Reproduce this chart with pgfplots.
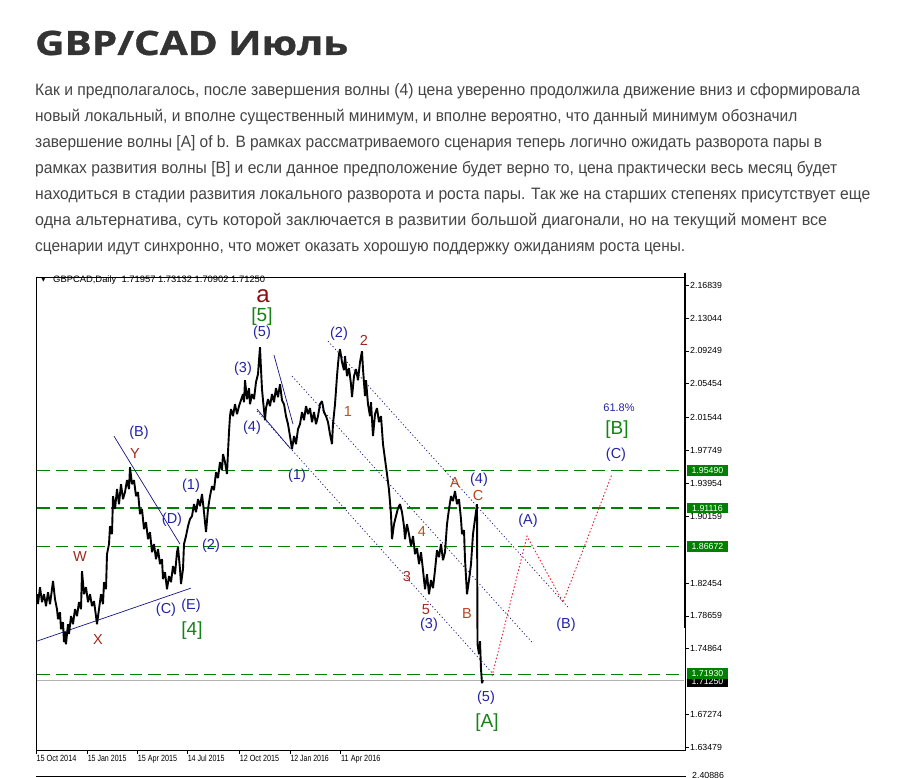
\documentclass[border=0pt]{standalone}
\usepackage{pgfplots}
\pgfplotsset{compat=1.18}
\usepackage{pgfplotstable}
\usepackage{graphicx}
\usepackage{fontspec}
\setmainfont{Liberation Sans}
\newfontfamily\titlefont{Open Sans}[BoldFeatures={FakeBold=0.9}]
\newfontfamily\parafont{Liberation Sans}
\newfontfamily\symfont{DejaVu Sans}
\definecolor{ttl}{RGB}{51,51,51}
\definecolor{para}{RGB}{68,68,68}
\definecolor{mtgreen}{RGB}{0,128,0}
\definecolor{lgreen}{RGB}{20,130,20}
\definecolor{navylab}{RGB}{35,35,165}
\definecolor{navyline}{RGB}{20,20,130}
\definecolor{brn}{RGB}{160,40,30}
\definecolor{sienna}{RGB}{175,85,35}
\definecolor{abc}{RGB}{190,65,30}
\definecolor{maroonA}{RGB}{140,15,15}
\definecolor{redproj}{RGB}{235,30,50}

\pgfplotstableread{
x y
37 1.8117
38 1.8002
40 1.8198
42 1.8025
44 1.8117
46 1.7979
48 1.8140
50 1.8002
52 1.8175
53 1.8268
55 1.8060
57 1.7944
58 1.7829
60 1.7909
61 1.7713
63 1.7794
64 1.7563
65 1.7678
66 1.7540
68 1.7771
69 1.7656
71 1.7864
73 1.7771
75 1.7944
77 1.7864
79 1.8025
81 1.7944
82 1.8383
84 1.8117
86 1.8198
88 1.8025
90 1.8117
92 1.7979
94 1.8037
96 1.7864
97 1.7771
99 1.7944
101 1.8117
103 1.8002
104 1.8256
106 1.8175
107 1.8579
109 1.8695
110 1.8902
112 1.8810
113 1.9249
115 1.9099
117 1.9330
119 1.9156
121 1.9387
123 1.9214
125 1.9295
127 1.9433
129 1.9330
130 1.9583
132 1.9387
134 1.9433
136 1.9249
138 1.9295
140 1.9041
142 1.9099
144 1.8868
146 1.8948
148 1.8752
150 1.8833
152 1.8602
154 1.8695
156 1.8521
158 1.8637
160 1.8464
162 1.8521
163 1.8291
165 1.8371
167 1.8175
169 1.8325
171 1.8256
173 1.8441
175 1.8348
177 1.8602
178 1.8660
180 1.8406
181 1.8233
183 1.8406
184 1.8695
186 1.8787
188 1.8902
190 1.8983
192 1.9018
194 1.9156
196 1.9064
198 1.9214
200 1.9133
202 1.9272
204 1.9064
206 1.8833
208 1.9099
210 1.9249
212 1.9364
214 1.9318
216 1.9525
218 1.9457
220 1.9641
222 1.9548
223 1.9733
225 1.9641
227 1.9503
228 1.9756
229 1.9987
230 2.0172
231 2.0253
233 2.0172
235 2.0310
237 2.0195
239 2.0287
241 2.0356
243 2.0426
244 2.0333
245 2.0587
247 2.0368
249 2.0495
250 2.0310
252 2.0426
254 2.0368
256 2.0564
258 2.0657
259 2.0818
260 2.0968
261 2.0715
262 2.0484
263 2.0356
265 2.0125
266 2.0264
268 2.0368
270 2.0287
272 2.0426
274 2.0333
276 2.0495
278 2.0391
280 2.0541
282 2.0356
284 2.0310
286 2.0172
288 2.0080
290 1.9941
292 1.9791
294 1.9941
296 1.9849
298 2.0022
300 2.0080
302 2.0218
304 2.0125
306 2.0287
308 2.0195
310 2.0264
312 2.0102
314 2.0218
316 2.0080
318 2.0172
320 2.0310
322 2.0345
324 2.0218
326 2.0172
328 2.0102
330 1.9964
332 1.9849
333 2.0080
335 2.0310
336 2.0472
337 2.0634
338 2.0772
339 2.0888
340 2.0945
342 2.0795
344 2.0703
345 2.0865
347 2.0634
349 2.0726
351 2.0541
352 2.0391
354 2.0634
356 2.0715
358 2.0587
360 2.0795
362 2.0922
363 2.0715
365 2.0403
366 2.0587
368 2.0310
370 2.0172
371 2.0333
373 1.9941
375 2.0195
377 2.0264
379 2.0102
381 2.0172
383 1.9849
385 1.9676
387 1.9503
389 1.9318
391 1.9041
392 1.8752
394 1.8925
396 1.9018
398 1.9110
400 1.9156
402 1.9064
404 1.8902
405 1.8752
407 1.8925
409 1.8810
411 1.8672
413 1.8787
415 1.8579
417 1.8649
419 1.8464
421 1.8602
423 1.8394
425 1.8175
427 1.8348
429 1.8117
431 1.8279
433 1.8187
435 1.8394
437 1.8625
439 1.8544
441 1.8695
443 1.8509
445 1.8602
447 1.8925
449 1.9099
451 1.9249
453 1.9191
455 1.9307
457 1.9156
459 1.9214
461 1.8983
462 1.8810
464 1.8856
465 1.8521
467 1.8117
469 1.8279
471 1.8464
473 1.8810
475 1.8983
477 1.9156
477.5 1.7540
479 1.7425
480 1.7575
481 1.7252
482 1.7090
483 1.7125
}\price

\begin{document}
\begin{tikzpicture}[x=1pt,y=1pt,
  lab/.style={font=\fontsize{14.5}{16}\selectfont, inner sep=0pt, anchor=center}]
\path[use as bounding box] (0,0) rectangle (905,777);
\clip (0,0) rectangle (905,777);

% title
\node[anchor=base west, inner sep=0pt, text=ttl] at (35,722)
  {\resizebox{313pt}{\height}{\titlefont\bfseries\fontsize{33.6}{40}\selectfont GBP/CAD Июль}};

% paragraph
\begin{scope}[every node/.style={anchor=base west, inner sep=0pt, text=para}]
\node at (35,681) {\resizebox{825pt}{\height}{\parafont\fontsize{16.5}{20}\selectfont Как и предполагалось, после завершения волны (4) цена уверенно продолжила движение вниз и сформировала}};
\node at (35,655) {\resizebox{762pt}{\height}{\parafont\fontsize{16.5}{20}\selectfont новый локальный, и вполне существенный минимум, и вполне вероятно, что данный минимум обозначил}};
\node at (35,629) {\resizebox{787pt}{\height}{\parafont\fontsize{16.5}{20}\selectfont завершение волны [A] of b. В рамках рассматриваемого сценария теперь логично ожидать разворота пары в}};
\node at (35,603) {\resizebox{802pt}{\height}{\parafont\fontsize{16.5}{20}\selectfont рамках развития волны [B] и если данное предположение будет верно то, цена практически весь месяц будет}};
\node at (35,577) {\resizebox{835pt}{\height}{\parafont\fontsize{16.5}{20}\selectfont находиться в стадии развития локального разворота и роста пары. Так же на старших степенях присутствует еще}};
\node at (35,551) {\resizebox{792pt}{\height}{\parafont\fontsize{16.5}{20}\selectfont одна альтернатива, суть которой заключается в развитии большой диагонали, но на текущий момент все}};
\node at (35,525) {\resizebox{650pt}{\height}{\parafont\fontsize{16.5}{20}\selectfont сценарии идут синхронно, что может оказать хорошую поддержку ожиданиям роста цены.}};
\end{scope}

\begin{axis}[
  at={(36,31)}, anchor=south west, scale only axis,
  width=649pt, height=473pt,
  xmin=36, xmax=685, ymin=1.63169, ymax=2.17762,
  axis line style={black, line width=0.9pt},
  xtick={36,87.3,137.3,187.3,239.3,290,340.7},
  xticklabels={\resizebox{40pt}{\height}{15 Oct 2014},\resizebox{38.7pt}{\height}{15 Jan 2015},\resizebox{39.3pt}{\height}{15 Apr 2015},\resizebox{36.7pt}{\height}{14 Jul 2015},\resizebox{39.3pt}{\height}{12 Oct 2015},\resizebox{38.3pt}{\height}{12 Jan 2016},\resizebox{39.3pt}{\height}{11 Apr 2016}},
  ytick={2.16839,2.13044,2.09249,2.05454,2.01544,1.97749,1.93954,1.90159,1.82454,1.78659,1.74864,1.67274,1.63479},
  yticklabels={2.16839,2.13044,2.09249,2.05454,2.01544,1.97749,1.93954,1.90159,1.82454,1.78659,1.74864,1.67274,1.63479},
  xtick pos=bottom, ytick pos=right, yticklabel pos=right,
  tick align=outside, major tick length=3.5pt,
  tick style={black, line width=0.7pt},
  ticklabel style={text=black},
  xticklabel style={font=\fontsize{9}{10}\selectfont, anchor=north west, inner sep=0pt, xshift=0.3pt, yshift=-1.5pt},
  yticklabel style={font=\fontsize{8.8}{10}\selectfont, anchor=west, inner sep=0pt, xshift=1.5pt},
  clip=false,
]
% levels
\addplot[mtgreen, line width=1.15pt, dash pattern=on 12.5pt off 6pt] coordinates {(37,1.95490) (684,1.95490)};
\addplot[mtgreen, line width=1.15pt, dash pattern=on 12.5pt off 6pt] coordinates {(37,1.91116) (684,1.91116)};
\addplot[mtgreen, line width=1.15pt, dash pattern=on 12.5pt off 6pt] coordinates {(37,1.86672) (684,1.86672)};
\addplot[mtgreen, line width=1.15pt, dash pattern=on 12.5pt off 6pt] coordinates {(37,1.71930) (684,1.71930)};
\addplot[black!30, line width=0.9pt] coordinates {(37,1.71250) (684,1.71250)};
% trend lines
\addplot[navyline, line width=0.7pt] coordinates {(37,1.7575) (191,1.8187)};
\addplot[navyline, line width=0.7pt] coordinates {(114,1.9941) (180,1.8695)};
\addplot[navyline, line width=0.7pt] coordinates {(274,2.0876) (293,2.0080)};
\addplot[navyline, line width=0.7pt] coordinates {(257,2.0253) (290,1.9803)};
\addplot[navyline, line width=0.7pt, dash pattern=on 1.2pt off 2.3pt] coordinates {(328,2.1038) (568,1.7967)};
\addplot[navyline, line width=0.7pt, dash pattern=on 1.2pt off 2.3pt] coordinates {(292,2.0634) (532,1.7563)};
\addplot[navyline, line width=0.7pt, dash pattern=on 1.2pt off 2.3pt] coordinates {(257,2.0230) (495,1.7171)};
% projection
\addplot[redproj, line width=0.9pt, dash pattern=on 1.5pt off 2pt] coordinates {(492,1.7171) (527,1.8787) (563,1.8025) (612,1.9503)};
% price
\addplot[black, line width=1.9pt, line join=bevel] table[x=x,y=y]{\price};

% labels
\node[lab, font=\fontsize{24}{26}\selectfont, text=maroonA] at (axis cs:263,2.1557) {a};
\node[lab, font=\fontsize{19}{21}\selectfont, text=lgreen] at (axis cs:262,2.1326) {[5]};
\node[lab, text=navylab] at (axis cs:262,2.1130) {(5)};
\node[lab, text=navylab] at (axis cs:243,2.0715) {(3)};
\node[lab, text=navylab] at (axis cs:339,2.1118) {(2)};
\node[lab, text=brn] at (axis cs:364,2.1049) {2};
\node[lab, text=sienna] at (axis cs:348,2.0230) {1};
\node[lab, text=navylab] at (axis cs:252,2.0033) {(4)};
\node[lab, text=navylab] at (axis cs:297,1.9479) {(1)};
\node[lab, text=navylab] at (axis cs:139,1.9976) {(B)};
\node[lab, text=brn] at (axis cs:135,1.9745) {Y};
\node[lab, text=brn] at (axis cs:80,1.8556) {W};
\node[lab, text=brn] at (axis cs:98,1.7598) {X};
\node[lab, text=navylab] at (axis cs:191,1.9364) {(1)};
\node[lab, text=navylab] at (axis cs:172,1.8972) {(D)};
\node[lab, text=navylab] at (axis cs:211,1.8671) {(2)};
\node[lab, text=navylab] at (axis cs:166,1.7933) {(C)};
\node[lab, text=navylab] at (axis cs:191,1.7979) {(E)};
\node[lab, font=\fontsize{19}{21}\selectfont, text=lgreen] at (axis cs:192,1.7702) {[4]};
\node[lab, text=brn] at (axis cs:407,1.8325) {3};
\node[lab, text=sienna] at (axis cs:422,1.8845) {4};
\node[lab, text=brn] at (axis cs:426,1.7944) {5};
\node[lab, text=navylab] at (axis cs:429,1.7760) {(3)};
\node[lab, text=abc] at (axis cs:455,1.9410) {A};
\node[lab, text=navylab] at (axis cs:479,1.9433) {(4)};
\node[lab, text=abc] at (axis cs:478,1.9260) {C};
\node[lab, text=abc] at (axis cs:467,1.7898) {B};
\node[lab, text=navylab] at (axis cs:486,1.6917) {(5)};
\node[lab, font=\fontsize{19}{21}\selectfont, text=lgreen] at (axis cs:487,1.6640) {[A]};
\node[lab, text=navylab] at (axis cs:528,1.8960) {(A)};
\node[lab, text=navylab] at (axis cs:566,1.7760) {(B)};
\node[lab, font=\fontsize{11}{13}\selectfont, text=navylab] at (axis cs:619,2.0264) {61.8\%};
\node[lab, font=\fontsize{19}{21}\selectfont, text=lgreen] at (axis cs:617,2.0022) {[B]};
\node[lab, text=navylab] at (axis cs:616,1.9722) {(C)};

\coordinate (g1) at (axis cs:685,1.95490);
\coordinate (g2) at (axis cs:685,1.91116);
\coordinate (g3) at (axis cs:685,1.86672);
\coordinate (g4) at (axis cs:685,1.71930);
\coordinate (g5) at (axis cs:685,1.71250);
\end{axis}

% right side thick bar
\draw[black, line width=2.6pt] (685,504) -- (685,149);

% price boxes
\begin{scope}[every node/.style={anchor=west, inner sep=0pt, minimum width=41.5pt, minimum height=10.8pt, text=white, font=\fontsize{8.8}{10}\selectfont}]
\node[fill=black] at ([xshift=1.5pt,yshift=-1.5pt]g5) {1.71250};
\node[fill=mtgreen] at ([xshift=1.5pt,yshift=1pt]g4) {1.71930};
\node[fill=mtgreen] at ([xshift=1.5pt]g3) {1.86672};
\node[fill=mtgreen] at ([xshift=1.5pt]g2) {1.91116};
\node[fill=mtgreen] at ([xshift=1.5pt]g1) {1.95490};
\end{scope}

% chart header
\node[anchor=west, inner sep=0pt] at (41,497) {\symfont\fontsize{6}{7}\selectfont ▼};
\node[anchor=west, inner sep=0pt] at (53,497) {\resizebox{212pt}{\height}{\fontsize{9.3}{10}\selectfont GBPCAD,Daily\ \ 1.71957 1.73132 1.70902 1.71250}};

% next panel edge
\draw[black, line width=1pt] (36,0.5) -- (686,0.5);
\node[anchor=north west, inner sep=0pt, font=\fontsize{8.8}{10}\selectfont] at (692,5) {2.40886};
\end{tikzpicture}
\end{document}
